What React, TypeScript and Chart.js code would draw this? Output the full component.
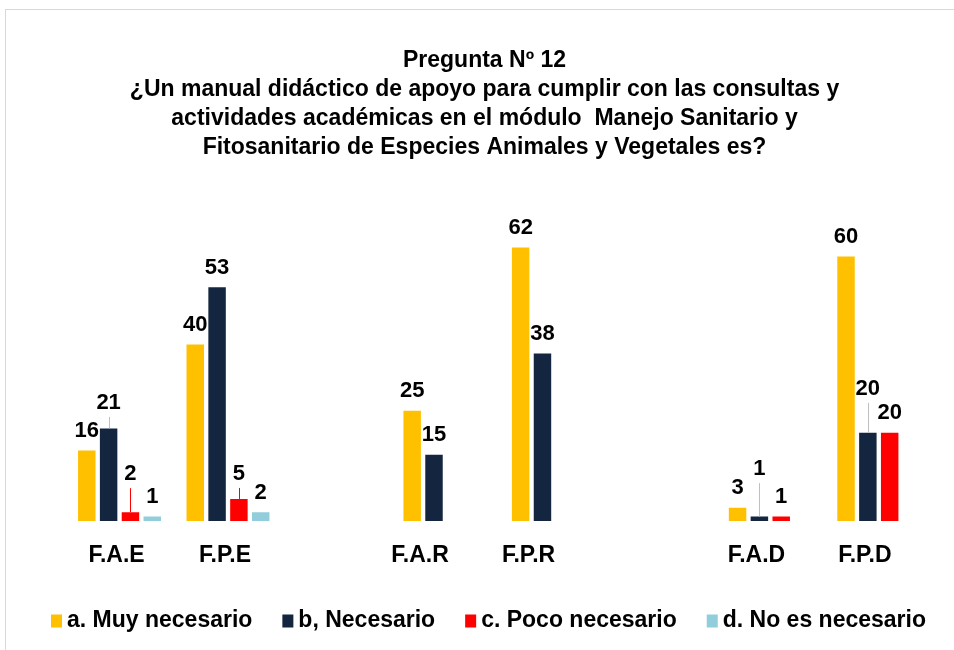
import React, { useEffect, useRef } from "react";
import { Chart, registerables } from "chart.js";

Chart.register(...registerables);

const FONT = '"Liberation Sans", Arial, Helvetica, sans-serif';

const categories = ["F.A.E", "F.P.E", "", "F.A.R", "F.P.R", "", "F.A.D", "F.P.D"];
const seriesNames = ["a. Muy necesario", "b, Necesario", "c. Poco necesario", "d. No es necesario"];
const muyNecesario = [16, 40, null, 25, 62, null, 3, 60];
const necesario = [21, 53, null, 15, 38, null, 1, 20];
const pocoNecesario = [2, 5, null, null, null, null, 1, 20];
const noEsNecesario = [1, 2, null, null, null, null, null, null];
const titleLines = [
  "Pregunta Nº 12",
  "¿Un manual didáctico de apoyo para cumplir con las consultas y",
  "actividades académicas en el módulo  Manejo Sanitario y",
  "Fitosanitario de Especies Animales y Vegetales es?",
];
const seriesColors = ["#FFC000", "#14253F", "#FF0000", "#92CDDC"];
const yMax = 70;

// style: labels lifted higher with a leader line ("dataset:index")
const leaderLabels: Record<string, { gap: number; color: string }> = {
  "1:0": { gap: 19.5, color: "#bfbfbf" },
  "2:0": { gap: 32, color: "#ff0000" },
  "2:1": { gap: 19, color: "#ff0000" },
  "1:6": { gap: 41.5, color: "#bfbfbf" },
  "1:7": { gap: 38, color: "#bfbfbf" },
};

const labelsPlugin = {
  id: "valueAndCategoryLabels",
  afterDatasetsDraw(chart: any) {
    const ctx = chart.ctx;
    ctx.save();
    ctx.fillStyle = "#000";
    ctx.textAlign = "center";
    ctx.textBaseline = "alphabetic";
    ctx.font = `bold 22px ${FONT}`;
    chart.data.datasets.forEach((ds: any, di: number) => {
      const meta = chart.getDatasetMeta(di);
      meta.data.forEach((el: any, i: number) => {
        const v = ds.data[i];
        if (v == null) return;
        const lead = leaderLabels[`${di}:${i}`];
        const gap = lead ? lead.gap : 13.5;
        const base = el.y - gap;
        if (lead) {
          ctx.beginPath();
          ctx.strokeStyle = lead.color;
          ctx.lineWidth = 1;
          ctx.moveTo(Math.round(el.x) + 0.5, base + 8);
          ctx.lineTo(Math.round(el.x) + 0.5, el.y);
          ctx.stroke();
        }
        ctx.fillText(String(v), el.x, base);
      });
    });
    ctx.font = `bold 23px ${FONT}`;
    ctx.textBaseline = "middle";
    categories.forEach((c, i) => {
      if (!c) return;
      const xs: number[] = [];
      chart.data.datasets.forEach((ds: any, di: number) => {
        if (ds.data[i] != null) xs.push(chart.getDatasetMeta(di).data[i].x);
      });
      const cx = xs.reduce((a, b) => a + b, 0) / xs.length - 3;
      ctx.fillText(c, cx, chart.chartArea.bottom + 35);
    });
    ctx.restore();
  },
};

const legendPlugin = {
  id: "bottomLegend",
  afterDraw(chart: any) {
    const ctx = chart.ctx;
    ctx.save();
    ctx.font = `bold 23px ${FONT}`;
    const box = 11;
    const boxGap = 5;
    const itemGap = 30;
    const widths = seriesNames.map((n) => ctx.measureText(n).width);
    const total =
      widths.reduce((a, w) => a + box + boxGap + w, 0) + itemGap * (seriesNames.length - 1);
    let x = chart.width / 2 + 11.5 - total / 2;
    const midY = 620.5;
    ctx.textAlign = "left";
    ctx.textBaseline = "middle";
    seriesNames.forEach((n, k) => {
      ctx.fillStyle = seriesColors[k];
      ctx.fillRect(x, midY - 6, box, 13);
      ctx.fillStyle = "#000";
      ctx.fillText(n, x + box + boxGap, midY);
      x += box + boxGap + widths[k] + itemGap;
    });
    ctx.restore();
  },
};

export default function App() {
  const ref = useRef<HTMLCanvasElement | null>(null);
  useEffect(() => {
    if (!ref.current) return;
    const seriesData = [muyNecesario, necesario, pocoNecesario, noEsNecesario];
    const chart = new Chart(ref.current, {
      type: "bar",
      data: {
        labels: categories,
        datasets: seriesNames.map((name, k) => ({
          label: name,
          data: seriesData[k],
          backgroundColor: seriesColors[k],
          borderWidth: 0,
          barPercentage: 0.8,
          categoryPercentage: 0.805,
        })),
      },
      options: {
        responsive: false,
        animation: false,
        layout: { padding: { left: 36, right: 21, top: 0, bottom: 0 } },
        scales: {
          x: {
            grid: { display: false },
            border: { display: false },
            ticks: { display: false },
            afterFit: (s: any) => {
              s.height = 129;
            },
          },
          y: {
            min: 0,
            max: yMax,
            grid: { display: false },
            border: { display: false },
            ticks: { display: false },
            afterFit: (s: any) => {
              s.width = 29.3;
            },
          },
        },
        plugins: {
          tooltip: { enabled: false },
          legend: { display: false },
          title: {
            display: true,
            text: titleLines,
            color: "#000",
            font: { family: FONT, size: 23, weight: "bold", lineHeight: "29px" },
            padding: { top: 45.7, bottom: 50.6 },
          },
        },
      },
      plugins: [labelsPlugin, legendPlugin],
    } as any);
    return () => chart.destroy();
  }, []);

  return (
    <div
      style={{
        position: "absolute",
        left: 0,
        top: 0,
        width: 954,
        height: 650,
        overflow: "hidden",
        background: "#fff",
      }}
    >
      <div
        style={{
          position: "absolute",
          left: 5,
          top: 9,
          width: 1000,
          height: 1000,
          border: "1px solid #d9d9d9",
        }}
      />
      <canvas ref={ref} width={954} height={650} style={{ position: "absolute", left: 0, top: 0 }} />
    </div>
  );
}
